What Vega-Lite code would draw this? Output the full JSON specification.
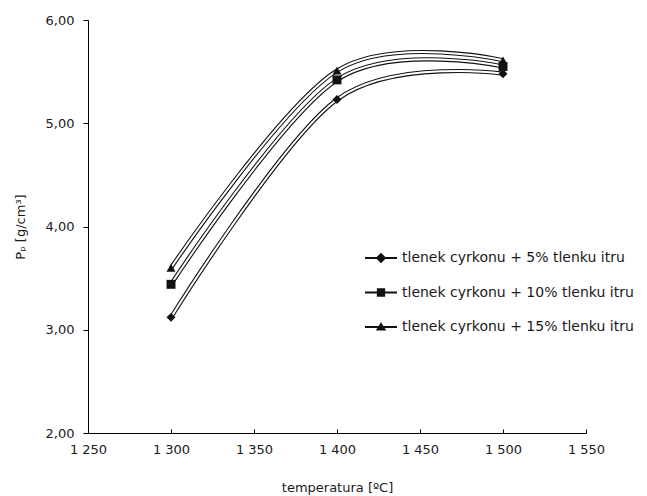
{
  "$schema": "https://vega.github.io/schema/vega-lite/v6.json",
  "autosize": {"type": "none"},
  "padding": {"left": 88, "top": 20, "right": 61, "bottom": 63},
  "width": 498,
  "height": 413,
  "background": "white",
  "config": {
    "view": {"stroke": null},
    "font": "DejaVu Sans",
    "axis": {"domainColor": "#000", "tickColor": "#000", "labelColor": "#1a1a1a", "titleColor": "#1a1a1a", "grid": false, "labelFont": "DejaVu Sans", "titleFont": "DejaVu Sans", "labelFontSize": 13, "titleFontSize": 13, "titleFontWeight": "normal", "domainWidth": 1, "tickWidth": 1}
  },
  "data": {
    "values": [
      {"series": "tlenek cyrkonu + 5% tlenku itru", "t": 1300, "p": 3.12},
      {"series": "tlenek cyrkonu + 5% tlenku itru", "t": 1400, "p": 5.23},
      {"series": "tlenek cyrkonu + 5% tlenku itru", "t": 1500, "p": 5.48},
      {"series": "tlenek cyrkonu + 10% tlenku itru", "t": 1300, "p": 3.44},
      {"series": "tlenek cyrkonu + 10% tlenku itru", "t": 1400, "p": 5.42},
      {"series": "tlenek cyrkonu + 10% tlenku itru", "t": 1500, "p": 5.55},
      {"series": "tlenek cyrkonu + 15% tlenku itru", "t": 1300, "p": 3.60},
      {"series": "tlenek cyrkonu + 15% tlenku itru", "t": 1400, "p": 5.51},
      {"series": "tlenek cyrkonu + 15% tlenku itru", "t": 1500, "p": 5.61}
    ]
  },
  "encoding": {
    "x": {"field": "t", "type": "quantitative", "scale": {"domain": [1250, 1550], "nice": false, "zero": false},
      "axis": {"title": "temperatura [ºC]", "values": [1250, 1300, 1350, 1400, 1450, 1500, 1550], "labelExpr": "floor(datum.value/1000) + ' ' + format(datum.value % 1000, '03d')", "tickSize": -4, "labelPadding": 14, "titlePadding": 25, "labelFlush": false}},
    "y": {"field": "p", "type": "quantitative", "scale": {"domain": [2, 6], "nice": false, "zero": false},
      "axis": {"title": "Pₚ [g/cm³]", "values": [2, 3, 4, 5, 6], "labelExpr": "replace(format(datum.value, '.2f'), '.', ',')", "tickSize": 5, "labelPadding": 9, "titlePadding": 18, "labelFlush": false}}
  },
  "layer": [
    {"mark": {"type": "line", "interpolate": "cardinal", "color": "#111", "strokeWidth": 4.2},
     "encoding": {"detail": {"field": "series"}}},
    {"mark": {"type": "line", "interpolate": "cardinal", "color": "white", "strokeWidth": 2},
     "encoding": {"detail": {"field": "series"}}},
    {"mark": {"type": "point", "filled": true, "color": "#111", "opacity": 1, "size": 80},
     "encoding": {
       "shape": {"field": "series", "type": "nominal",
         "scale": {"domain": ["tlenek cyrkonu + 5% tlenku itru", "tlenek cyrkonu + 10% tlenku itru", "tlenek cyrkonu + 15% tlenku itru"], "range": ["diamond", "square", "triangle-up"]},
         "legend": null}
     }},
    {"mark": {"type": "point", "filled": true, "color": "#111", "opacity": 0, "size": 80},
     "encoding": {
       "shape": {"field": "series", "type": "nominal",
         "scale": {"domain": ["tlenek cyrkonu + 5% tlenku itru", "tlenek cyrkonu + 10% tlenku itru", "tlenek cyrkonu + 15% tlenku itru"],
           "range": ["M-1,-0.06H1V0.06H-1Z M0,-0.33L0.33,0L0,0.33L-0.33,0Z", "M-1,-0.06H1V0.06H-1Z M-0.26,-0.26H0.26V0.26H-0.26Z", "M-1,-0.06H1V0.06H-1Z M0,-0.3L0.33,0.22H-0.33Z"]},
         "legend": {"title": null, "orient": "none", "legendX": 277, "legendY": 222, "symbolSize": 1024, "symbolStrokeWidth": 0, "symbolFillColor": "#111", "symbolOpacity": 1, "labelFont": "DejaVu Sans", "labelFontSize": 14, "labelColor": "#1a1a1a", "labelOffset": 5, "rowPadding": 11.5, "labelLimit": 400}}
     }}
  ],
  "resolve": {"scale": {"shape": "independent"}, "legend": {"shape": "independent"}}
}
